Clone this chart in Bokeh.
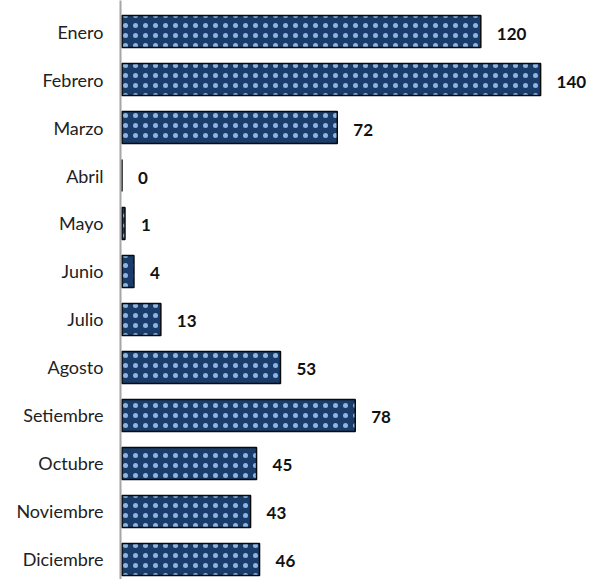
from bokeh.plotting import figure
from bokeh.models import Range1d, FixedTicker, ColumnDataSource
from bokeh.embed import file_html
from bokeh.resources import INLINE
from bokeh.core.properties import value

months = ["Enero", "Febrero", "Marzo", "Abril", "Mayo", "Junio", "Julio",
          "Agosto", "Setiembre", "Octubre", "Noviembre", "Diciembre"]
counts = [120, 140, 72, 0, 1, 4, 13, 53, 78, 45, 43, 46]

pos = list(range(len(months)))
src = ColumnDataSource(dict(y=pos, v=counts, lbl=[str(c) for c in counts]))

W, H = 589, 579
p = figure(width=W, height=H, output_backend="svg", toolbar_location=None,
           x_range=Range1d(-0.5, 156.35), y_range=Range1d(11.417, -0.646),
           min_border_left=120, min_border_right=0, min_border_top=0, min_border_bottom=0,
           x_axis_location=None)
p.outline_line_color = None
p.xgrid.visible = False
p.ygrid.visible = False
p.background_fill_color = "white"
p.border_fill_color = "white"

p.hbar(y="y", left=0, right="v", height=0.667, source=src,
       fill_color="#1A3C6A", line_color="#0A0A0A", line_width=1.5,
       hatch_pattern="dot", hatch_color="#8DB4E2", hatch_scale=10, hatch_weight=6)

p.text(x="v", y="y", text="lbl", source=src, x_offset=16, y_offset=2,
       text_baseline="middle", text_align="left",
       text_font=value("Lato"), text_font_style="bold", text_font_size="17px",
       text_color="#111111")

ax = p.yaxis[0]
ax.ticker = FixedTicker(ticks=pos)
ax.major_label_overrides = {i: m for i, m in enumerate(months)}
ax.major_tick_line_color = None
ax.minor_tick_line_color = None
ax.major_tick_out = 0
ax.major_label_standoff = 17
ax.axis_line_color = "#A6A6A6"
ax.axis_line_width = 2
ax.major_label_text_font = "Lato"
ax.major_label_text_font_size = "18px"
ax.major_label_text_color = "#222222"

open("out.html", "w").write(file_html(p, INLINE))
